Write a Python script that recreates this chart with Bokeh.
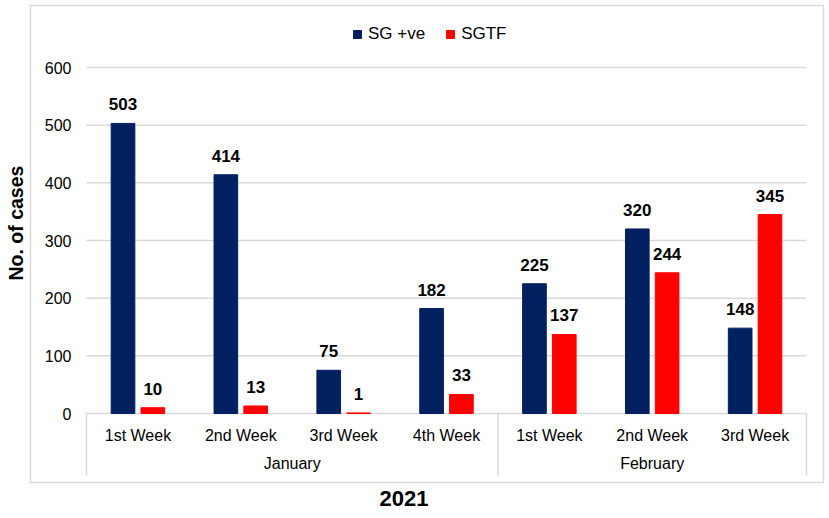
import math
from bokeh.plotting import figure
from bokeh.models import (Range1d, ColumnDataSource, Title, LinearAxis, FixedTicker,
                          CustomJSTickFormatter)
from bokeh.transform import dodge
from bokeh.core.properties import value
from bokeh.embed import file_html
from bokeh.resources import INLINE

# ---------------- data ----------------
months = ["January", "February"]
weeks_per_month = [4, 3]
week_labels = ["1st Week", "2nd Week", "3rd Week", "4th Week",
               "1st Week", "2nd Week", "3rd Week"]
sg_positive = [503, 414, 75, 182, 225, 320, 148]
sgtf = [10, 13, 1, 33, 137, 244, 345]
y_ticks = [0, 100, 200, 300, 400, 500, 600]
year_label = "2021"
y_title = "No. of cases"
series_names = ["SG +ve", "SGTF"]

# ---------------- style / layout ----------------
NAVY = "#002060"
RED = "#ff0000"
GRID = "#d9d9d9"
FONT = "Liberation Sans"

W, H = 828, 518
FRAME_L, FRAME_R, FRAME_T, FRAME_B = 30, 823, 5, 482   # chart box (canvas px)
PLOT_L, PLOT_R = 86, 806                               # plot area inside box
ZERO_Y, TOP_Y = 413, 67                                # pixel rows of 0 and 600

n = len(week_labels)
slot = [i + 0.5 for i in range(n)]
bounds = [0]
for k in weeks_per_month:
    bounds.append(bounds[-1] + k)
month_centers = [(a + b) / 2 for a, b in zip(bounds[:-1], bounds[1:])]

px_x = (PLOT_R - PLOT_L) / n
px_y = (ZERO_Y - TOP_Y) / max(y_ticks)
x_lo = -(PLOT_L - FRAME_L) / px_x
x_hi = n + (FRAME_R - PLOT_R) / px_x
y_lo = -(FRAME_B - ZERO_Y) / px_y
y_hi = (ZERO_Y - FRAME_T) / px_y

source = ColumnDataSource(dict(
    x=slot, sg=sg_positive, sgtf=sgtf,
    sg_txt=[str(v) for v in sg_positive],
    sgtf_txt=[str(v) for v in sgtf],
))

p = figure(width=W, height=H,
           x_range=Range1d(x_lo, x_hi), y_range=Range1d(y_lo, y_hi),
           x_axis_location=None, y_axis_location=None,
           output_backend="svg", toolbar_location=None,
           min_border_left=FRAME_L, min_border_right=W - FRAME_R,
           min_border_top=FRAME_T, min_border_bottom=H - FRAME_B)
p.xgrid.visible = False
p.ygrid.visible = False
p.outline_line_color = GRID
p.outline_line_width = 1.5
p.background_fill_color = "white"
p.border_fill_color = "white"

# horizontal gridlines (incl. zero line / axis line)
p.segment(x0=[0] * len(y_ticks), x1=[n] * len(y_ticks), y0=y_ticks, y1=y_ticks,
          line_color=GRID, line_width=1.5)
# y tick labels
p.text(x=[0] * len(y_ticks), y=y_ticks, text=[str(t) for t in y_ticks],
       x_offset=-15, text_align="right", text_baseline="middle",
       text_font=value(FONT), text_font_size="16px", text_color="black")

# bars
OFF = 0.145
BW = 0.23
p.vbar(x=dodge("x", -OFF), top="sg", width=BW, source=source,
       fill_color=NAVY, line_color=NAVY, legend_label=series_names[0])
p.vbar(x=dodge("x", OFF), top="sgtf", width=BW, source=source,
       fill_color=RED, line_color=RED, legend_label=series_names[1])

# value labels
for col, txt, off in (("sg", "sg_txt", -OFF), ("sgtf", "sgtf_txt", OFF)):
    p.text(x=dodge("x", off), y=col, text=txt, source=source,
           text_align="center", text_baseline="alphabetic", y_offset=-19,
           text_font=value(FONT), text_font_style="bold", text_font_size="17px",
           text_color="black")

# category axis: separators, week and month labels
p.ray(x=bounds, y=[0] * len(bounds), length=62, length_units="screen",
      angle=-math.pi / 2, line_color=GRID, line_width=1.5)
p.text(x=slot, y=[0] * n, text=week_labels, y_offset=22,
       text_align="center", text_baseline="middle",
       text_font=value(FONT), text_font_size="16px", text_color="black")
p.text(x=month_centers, y=[0] * len(months), text=months, y_offset=50,
       text_align="center", text_baseline="middle",
       text_font=value(FONT), text_font_size="16px", text_color="black")

# y axis title
p.add_layout(Title(text=y_title, align="left", offset=202, standoff=4,
                   vertical_align="top",
                   text_font=FONT, text_font_style="bold",
                   text_font_size="19.5px", text_color="black"), "left")

# invisible spacer axis below the box (one hidden tick), then the "2021" title
spacer = LinearAxis(
    ticker=FixedTicker(ticks=[0], minor_ticks=[]),
    formatter=CustomJSTickFormatter(code="return ''"),
    axis_line_color=None, major_tick_line_color=None, minor_tick_line_color=None,
    major_tick_out=6, major_tick_in=0, minor_tick_out=0, minor_tick_in=0,
    major_label_standoff=0,
)
p.add_layout(spacer, "below")
p.add_layout(Title(text=year_label, align="left", offset=349, standoff=0,
                   text_font=FONT, text_font_style="bold",
                   text_font_size="22px", text_color="black"), "below")

# legend
lg = p.legend[0]
lg.orientation = "horizontal"
lg.location = (322, 438)
lg.border_line_color = None
lg.background_fill_alpha = 0
lg.padding = 2
lg.margin = 0
lg.spacing = 20
lg.glyph_width = 10
lg.glyph_height = 10
lg.label_standoff = 6
lg.label_height = 18
lg.label_text_font = FONT
lg.label_text_font_size = "17px"
lg.label_text_color = "black"

open("out.html", "w").write(file_html(p, INLINE))
